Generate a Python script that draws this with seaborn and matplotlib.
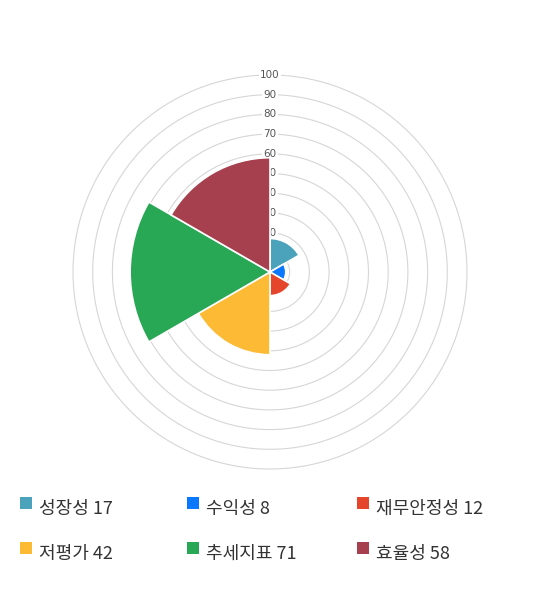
import numpy as np
import matplotlib
matplotlib.use("Agg")
import matplotlib.pyplot as plt
import seaborn as sns
from matplotlib.patches import Rectangle

categories = ["성장성", "수익성", "재무안정성", "저평가", "추세지표", "효율성"]
values = [17, 8, 12, 42, 71, 58]
colors = ["#4aa3ba", "#0a77ff", "#e5452a", "#fdba35", "#28a755", "#a63f4e"]
ticks = [10, 20, 30, 40, 50, 60, 70, 80, 90, 100]

sns.set_style("white")
plt.rcParams["font.family"] = ["Noto Sans CJK KR", "DejaVu Sans"]

fig = plt.figure(figsize=(5.4, 5.9), dpi=100)
W, H = 540, 590
cx, cy, R = 270, 272, 197
ax = fig.add_axes([(cx - R) / W, 1 - (cy + R) / H, 2 * R / W, 2 * R / H], projection="polar")
ax.set_theta_zero_location("N")
ax.set_theta_direction(-1)
ax.set_ylim(0, 100)

n = len(categories)
width = 2 * np.pi / n
theta = np.arange(n) * width + width / 2
ax.bar(theta, values, width=width, color=colors, edgecolor="white", linewidth=1.2, zorder=3)

# rings
ring_t = np.linspace(0, 2 * np.pi, 400)
for t in ticks:
    ax.plot(ring_t, np.full_like(ring_t, t), color="#d6d6d6", lw=0.8, zorder=1, clip_on=False)
    ax.text(0, t, str(t), ha="center", va="center", fontsize=7.5, color="#555555",
            family="DejaVu Sans", zorder=2,
            bbox=dict(boxstyle="square,pad=0.1", fc="white", ec="none"))

ax.grid(False)
ax.set_xticks([])
ax.set_yticks([])
ax.spines["polar"].set_visible(False)

# legend
col_x = [20, 187, 357]
row_y = [503, 548]
for i, (cat, val, c) in enumerate(zip(categories, values, colors)):
    x = col_x[i % 3]
    y = row_y[i // 3]
    fig.patches.append(Rectangle((x / W, 1 - (y + 6) / H), 12 / W, 12 / H,
                                 transform=fig.transFigure, fc=c, ec="none"))
    fig.text((x + 19) / W, 1 - (y + 6) / H, f"{cat} {val}", fontsize=13,
             color="#333333", va="center", ha="left")

fig.savefig("out.png", dpi=100, facecolor="white")
